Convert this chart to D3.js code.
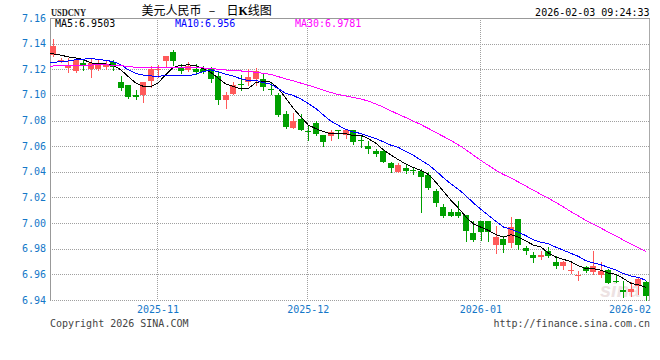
<!DOCTYPE html>
<html><head><meta charset="utf-8">
<script src="https://cdn.jsdelivr.net/npm/d3@7/dist/d3.min.js"></script>
<style>html,body{margin:0;padding:0;background:#fff;}svg{display:block;}</style>
</head><body>
<svg id="c" width="660" height="360"></svg>
<script>
// ---- data ----
const dates = [
"2025-10-14","2025-10-15","2025-10-16","2025-10-17","2025-10-20","2025-10-21","2025-10-22","2025-10-23","2025-10-24","2025-10-27","2025-10-28","2025-10-29","2025-10-30","2025-10-31",
"2025-11-03","2025-11-04","2025-11-05","2025-11-06","2025-11-07","2025-11-10","2025-11-11","2025-11-12","2025-11-13","2025-11-14","2025-11-17","2025-11-18","2025-11-19","2025-11-20","2025-11-21","2025-11-24","2025-11-25","2025-11-26","2025-11-27","2025-11-28",
"2025-12-01","2025-12-02","2025-12-03","2025-12-04","2025-12-05","2025-12-08","2025-12-09","2025-12-10","2025-12-11","2025-12-12","2025-12-15","2025-12-16","2025-12-17","2025-12-18","2025-12-19","2025-12-22","2025-12-23","2025-12-24","2025-12-25","2025-12-26","2025-12-29","2025-12-30","2025-12-31",
"2026-01-04","2026-01-05","2026-01-06","2026-01-07","2026-01-08","2026-01-09","2026-01-12","2026-01-13","2026-01-14","2026-01-15","2026-01-16","2026-01-19","2026-01-20","2026-01-21","2026-01-22","2026-01-23","2026-01-26","2026-01-27","2026-01-28","2026-01-29","2026-01-30",
"2026-02-02","2026-02-03"];
const open  = [7.1309,7.1272,7.1209,7.1186,7.1248,7.1205,7.1199,7.1215,7.1256,7.1100,7.1074,7.0996,7.0996,7.1105,7.1194,7.1264,7.1334,7.1217,7.1197,7.1205,7.1205,7.1199,7.1145,7.0957,7.1009,7.1082,7.1098,7.1121,7.1127,7.1045,7.0996,7.0848,7.0740,7.0814,7.0720,7.0780,7.0684,7.0676,7.0725,7.0684,7.0723,7.0652,7.0598,7.0561,7.0561,7.0467,7.0402,7.0428,7.0412,7.0405,7.0379,7.0254,7.0129,7.0084,7.0084,7.0066,6.9923,7.0020,7.0020,6.9832,6.9877,6.9842,7.0033,6.9806,6.9754,6.9738,6.9785,6.9694,6.9662,6.9635,6.9593,6.9655,6.9616,6.9595,6.9637,6.9547,6.9480,6.9459,6.9512,6.9538];
const high  = [7.1434,7.1290,7.1290,7.1283,7.1270,7.1283,7.1283,7.1270,7.1275,7.1144,7.1080,7.1041,7.1100,7.1223,7.1236,7.1301,7.1353,7.1244,7.1254,7.1238,7.1228,7.1215,7.1176,7.1022,7.1097,7.1152,7.1205,7.1207,7.1166,7.1100,7.1014,7.0871,7.0858,7.0853,7.0754,7.0793,7.0691,7.0730,7.0730,7.0736,7.0730,7.0684,7.0639,7.0580,7.0572,7.0475,7.0465,7.0463,7.0431,7.0423,7.0397,7.0267,7.0150,7.0111,7.0176,7.0066,7.0020,7.0020,7.0020,6.9980,6.9902,7.0045,7.0033,6.9824,6.9772,6.9785,6.9811,6.9746,6.9707,6.9707,6.9623,6.9668,6.9785,6.9694,6.9645,6.9595,6.9551,6.9537,6.9582,6.9551];
const low   = [7.1300,7.1256,7.1178,7.1178,7.1192,7.1139,7.1192,7.1200,7.1192,7.1035,7.0978,7.0970,7.0944,7.1061,7.1139,7.1223,7.1233,7.1174,7.1186,7.1166,7.1170,7.1100,7.0926,7.0897,7.1004,7.1035,7.1074,7.1074,7.1041,7.1004,7.0832,7.0738,7.0740,7.0723,7.0645,7.0691,7.0598,7.0645,7.0666,7.0666,7.0619,7.0592,7.0545,7.0527,7.0473,7.0402,7.0402,7.0392,7.0384,7.0090,7.0267,7.0137,7.0045,7.0053,7.0050,6.9858,6.9858,6.9869,6.9863,6.9767,6.9772,6.9811,6.9798,6.9759,6.9694,6.9720,6.9733,6.9647,6.9642,6.9611,6.9559,6.9621,6.9603,6.9577,6.9530,6.9537,6.9420,6.9428,6.9449,6.9395];
const close = [7.1379,7.1275,7.1230,7.1275,7.1223,7.1248,7.1236,7.1230,7.1217,7.1056,7.0983,7.0980,7.1100,7.1205,7.1200,7.1301,7.1264,7.1183,7.1223,7.1176,7.1178,7.1121,7.0957,7.1002,7.1074,7.1078,7.1137,7.1184,7.1061,7.1041,7.0840,7.0748,7.0793,7.0730,7.0717,7.0697,7.0631,7.0709,7.0721,7.0728,7.0631,7.0639,7.0577,7.0541,7.0475,7.0428,7.0455,7.0405,7.0408,7.0358,7.0272,7.0155,7.0053,7.0053,7.0053,6.9936,6.9871,6.9928,6.9928,6.9889,6.9830,6.9973,6.9830,6.9780,6.9728,6.9754,6.9741,6.9668,6.9694,6.9637,6.9596,6.9629,6.9668,6.9629,6.9530,6.9543,6.9465,6.9486,6.9564,6.9434];
// closes of the 29 sessions before the visible window (estimated from the MA lines)
const priorCloses = [7.1230,7.1210,7.1195,7.1180,7.1205,7.1220,7.1240,7.1225,7.1200,7.1185,7.1170,7.1190,7.1215,7.1230,7.1250,7.1260,7.1240,7.1210,7.1190,7.1200,7.1180,7.1200,7.1170,7.1190,7.1180,7.1320,7.1300,7.1315,7.1286];
const yTicks = [7.16,7.14,7.12,7.10,7.08,7.06,7.04,7.02,7.00,6.98,6.96,6.94];
const monthTicks = ["2025-11-03","2025-12-01","2026-01-04","2026-02-02"];
const monthLabels = ["2025-11","2025-12","2026-01","2026-02"];
const maPeriods = [5,10,30];
const maColors = ["#000000","#0000ff","#ff00ff"];
const legendText = ["MA5:6.9503","MA10:6.956","MA30:6.9781"];

// ---- layout ----
const L=50, R=649, T=18, B=300;
const mono = "'DejaVu Sans Mono', monospace";
const svg = d3.select("#c");
const x = d3.scalePoint().domain(dates).range([53, 646]);
const y = d3.scaleLinear().domain([6.94, 7.16]).range([B, T]);
const py = v => Math.round(y(v)) + 0.5;

svg.append("defs").append("clipPath").attr("id","pc")
  .append("rect").attr("x",L).attr("y",T).attr("width",R-L).attr("height",B-T+1);

// horizontal grid (dotted)
svg.append("g").selectAll("line").data(yTicks.filter(v=>v<7.159)).join("line")
  .attr("x1",L).attr("x2",R).attr("y1",d=>py(d)).attr("y2",d=>py(d))
  .attr("stroke","#a0a0a0").attr("stroke-dasharray","1,1").attr("shape-rendering","crispEdges");
// vertical month grid
svg.append("g").selectAll("line").data(monthTicks.slice(0,3)).join("line")
  .attr("x1",d=>Math.round(x(d))-0.5).attr("x2",d=>Math.round(x(d))-0.5).attr("y1",T).attr("y2",B)
  .attr("stroke","#a0a0a0").attr("stroke-dasharray","1,1").attr("shape-rendering","crispEdges");
// frame
svg.append("line").attr("x1",L+0.5).attr("x2",L+0.5).attr("y1",T).attr("y2",B+1).attr("stroke","#999").attr("shape-rendering","crispEdges");
svg.append("line").attr("x1",R+0.5).attr("x2",R+0.5).attr("y1",T).attr("y2",B+1).attr("stroke","#aaa").attr("shape-rendering","crispEdges");
svg.append("line").attr("x1",L).attr("x2",R+1).attr("y1",T+0.5).attr("y2",T+0.5).attr("stroke","#999").attr("shape-rendering","crispEdges");

// y labels
svg.append("g").selectAll("text").data(yTicks).join("text")
  .attr("x",46).attr("y",d=>y(d)+3.5).attr("text-anchor","end")
  .attr("font-family",mono).attr("font-size",10).attr("fill","#1477c8")
  .text(d=>d.toFixed(2));

// x labels
svg.append("g").selectAll("text").data(monthTicks).join("text")
  .attr("x",(d,i)=>Math.min(x(d), R+2-21)).attr("y",313).attr("text-anchor","middle")
  .attr("font-family",mono).attr("font-size",10).attr("fill","#1477c8")
  .text((d,i)=>monthLabels[i]);

// watermark
svg.append("text").attr("x",600).attr("y",297).attr("font-family","'Liberation Sans',sans-serif")
  .attr("font-style","italic").attr("font-weight","bold").attr("font-size",20)
  .attr("fill","#e6d6d6").attr("opacity",0.7).text("sina");

// candles
const up = "#ff5a5a", dn = "#00a000";
const g = svg.append("g").attr("clip-path","url(#pc)");
const idx = d3.range(dates.length);
const col = i => close[i] >= open[i] ? up : dn;
g.selectAll("line.w").data(idx).join("line").attr("class","w")
  .attr("x1",i=>Math.round(x(dates[i]))+0.5).attr("x2",i=>Math.round(x(dates[i]))+0.5)
  .attr("y1",i=>Math.round(y(high[i]))).attr("y2",i=>Math.round(y(low[i]))+1)
  .attr("stroke",col).attr("shape-rendering","crispEdges");
g.selectAll("rect.b").data(idx).join("rect").attr("class","b")
  .attr("x",i=>Math.round(x(dates[i]))-3).attr("width",6)
  .attr("y",i=>Math.round(y(Math.max(open[i],close[i]))))
  .attr("height",i=>Math.max(1, Math.round(y(Math.min(open[i],close[i]))) - Math.round(y(Math.max(open[i],close[i])))))
  .attr("fill",col).attr("shape-rendering","crispEdges");

// moving averages
const all = priorCloses.concat(close);
const off = priorCloses.length;
maPeriods.forEach((p,k)=>{
  const pts = idx.map(i=>{
    const j = i+off;
    const s = d3.sum(all.slice(j-p+1, j+1));
    return [x(dates[i]), y(s/p)];
  });
  g.append("path").attr("d", d3.line()([[L, pts[0][1]]].concat(pts)))
    .attr("fill","none").attr("stroke",maColors[k]).attr("stroke-width",1)
    .attr("shape-rendering","crispEdges");
});

// legend
const lx = [55,175,295];
legendText.forEach((t,k)=>{
  svg.append("text").attr("x",lx[k]).attr("y",27).attr("font-family",mono).attr("font-size",10)
    .attr("fill",maColors[k]).text(t);
});

// header
svg.append("text").attr("x",51).attr("y",16).attr("font-family","'Liberation Serif',serif")
  .attr("font-size",11).attr("font-weight","bold").attr("fill","#222").attr("textLength",35).attr("lengthAdjust","spacingAndGlyphs").text("USDCNY");
const cjk = "'Noto Sans CJK SC',sans-serif";
svg.append("text").attr("x",141.5).attr("y",15).attr("font-family",cjk).attr("font-size",12).attr("fill","#000").text("美元人民币");
svg.append("text").attr("x",206).attr("y",15).attr("font-family",mono).attr("font-size",12).attr("fill","#000").text("－");
const t2 = svg.append("text").attr("x",226.5).attr("y",15).attr("font-family",cjk).attr("font-size",12).attr("fill","#000");
t2.append("tspan").text("日");
t2.append("tspan").attr("font-weight","bold").attr("font-family","'Liberation Serif',serif").text("K");
t2.append("tspan").text("线图");
svg.append("text").attr("x",649.5).attr("y",16).attr("text-anchor","end").attr("font-family",mono)
  .attr("font-size",10).attr("fill","#000").text("2026-02-03 09:24:33");

// footer
svg.append("text").attr("x",50).attr("y",327).attr("font-family",mono).attr("font-size",10).attr("fill","#444").text("Copyright 2026 SINA.COM");
svg.append("text").attr("x",650).attr("y",327).attr("text-anchor","end").attr("font-family",mono).attr("font-size",10).attr("fill","#444").text("http://finance.sina.com.cn");
</script>
</body></html>
